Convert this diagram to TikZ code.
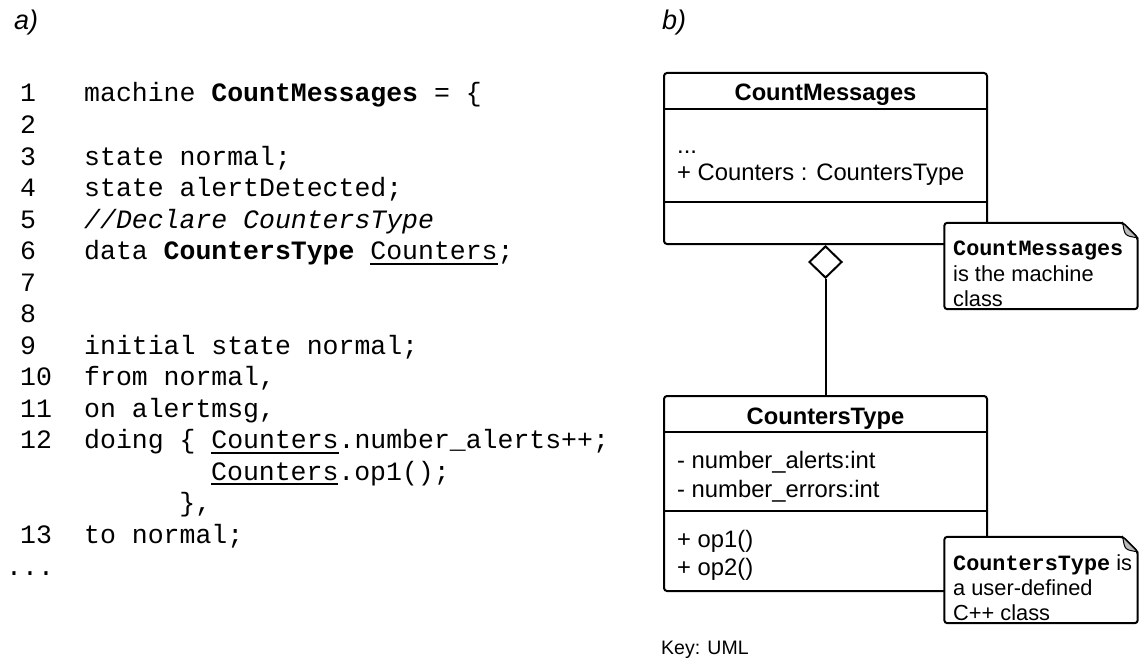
\documentclass[tikz,border=0pt]{standalone}
\usepackage{fontspec}
\setmainfont{Liberation Sans}
\setmonofont{Liberation Mono}
\usetikzlibrary{positioning, shapes.geometric}

\newsavebox\ulbox
\newcommand\codeul[1]{\sbox\ulbox{#1}\rlap{\rule[-5pt]{\wd\ulbox}{2pt}}\usebox\ulbox}

\tikzset{
	code/.style={anchor=base west, inner sep=0pt, font=\fontsize{26.5}{31.5}\selectfont\ttfamily},
	panel/.style={anchor=base west, inner sep=0pt, font=\fontsize{27}{30}\selectfont\itshape},
	umlbox/.style={draw, line width=2pt, rounded corners=3pt, fill=white, minimum width=323pt},
	umltitle/.style={anchor=base, inner sep=0pt, font=\fontsize{23.7}{28}\selectfont\bfseries},
	umltext/.style={anchor=base west, inner sep=0pt, font=\fontsize{23.8}{27}\selectfont},
	agg/.style={draw, diamond, line width=2pt, fill=white, inner sep=0pt, minimum width=33pt, minimum height=32pt},
	notebox/.style={draw, line width=2pt, fill=white, rounded corners=3pt},
	notetext/.style={anchor=base west, inner sep=0pt, font=\fontsize{21.8}{25}\selectfont},
}

\begin{document}
\begin{tikzpicture}[x=1pt, y=-1pt]
	\useasboundingbox (0,0) rectangle (1139,658);

	\node[panel] (pa) at (14,30) {a)};
	\node[panel] (pb) at (662,30) {b)};

	% listing
	\foreach \i in {1,...,12}
		\node[code] (n\i) at (20,{102+31.5*(\i-1)}) {\i};
	\node[code] (n13) at (20,543) {13};

	\node[code] (c1) at (84,102) {machine \textbf{CountMessages} = \{};
	\node[code] (c3) at (84,165) {state normal;};
	\node[code] (c4) at (84,196.5) {state alertDetected;};
	\node[code] (c5) at (84,228) {\textit{//Declare CountersType}};
	\node[code] (c6) at (84,259.5) {data \textbf{CountersType} \codeul{Counters};};
	\node[code] (c9) at (84,354) {initial state normal;};
	\node[code] (c10) at (84,385.5) {from normal,};
	\node[code] (c11) at (84,417) {on alertmsg,};
	\node[code] (c12) at (84,448.5) {doing \{ \codeul{Counters}.number\_alerts++;};
	\node[code] (c12b) at (211,480) {\codeul{Counters}.op1();};
	\node[code] (c12c) at (179.2,511.5) {\},};
	\node[code] (c13) at (84,543) {to normal;};
	\node[code] (dots) at (6,575) {...};

	% class diagram
	\node[umlbox, minimum height=171pt] (cm) at (825.5,158.5) {};
	\draw[line width=2pt] ([yshift=-37pt]cm.north west) -- ([yshift=-37pt]cm.north east);
	\draw[line width=2pt] ([yshift=-130pt]cm.north west) -- ([yshift=-130pt]cm.north east);
	\node[umltitle] (cmt) at (825.5,101) {CountMessages};
	\node[umltext] (cma) at (677,153) {...};
	\node[umltext] (cmb) at (677,180) {+ Counters : CountersType};

	\node[agg, below=0pt of cm] (ag) {};

	\node[umlbox, minimum height=195pt] (ct) at (825.5,493.5) {};
	\draw[line width=2pt] ([yshift=-37pt]ct.north west) -- ([yshift=-37pt]ct.north east);
	\draw[line width=2pt] ([yshift=-116pt]ct.north west) -- ([yshift=-116pt]ct.north east);
	\node[umltitle] (ctt) at (825.5,424) {CountersType};
	\node[umltext] (cta) at (677,468) {- number\_alerts:int};
	\node[umltext] (ctb) at (677,497) {- number\_errors:int};
	\node[umltext] (ctc) at (677,547) {+ op1()};
	\node[umltext] (ctd) at (677,575) {+ op2()};

	\draw[line width=2pt] (ag.south) -- (ct.north);

	% notes
	\node[minimum width=193pt, minimum height=86pt, inner sep=0pt] (m1) at (1041,266) {};
	\draw[notebox] ([xshift=-15pt]m1.north east) -- (m1.north west) -- (m1.south west)
		-- (m1.south east) -- ([yshift=-15pt]m1.north east) -- cycle;
	\filldraw[fill=gray!55, line width=1pt] ([xshift=-15pt]m1.north east)
		.. controls ([xshift=-13pt,yshift=-13pt]m1.north east) .. ([yshift=-15pt]m1.north east) -- cycle;
	\node[notetext] (m1a) at (953,255) {\ttfamily\bfseries CountMessages};
	\node[notetext] (m1b) at (953,281) {is the machine};
	\node[notetext] (m1c) at (953,306) {class};

	\node[minimum width=193pt, minimum height=86pt, inner sep=0pt] (m2) at (1041,580) {};
	\draw[notebox] ([xshift=-15pt]m2.north east) -- (m2.north west) -- (m2.south west)
		-- (m2.south east) -- ([yshift=-15pt]m2.north east) -- cycle;
	\filldraw[fill=gray!55, line width=1pt] ([xshift=-15pt]m2.north east)
		.. controls ([xshift=-13pt,yshift=-13pt]m2.north east) .. ([yshift=-15pt]m2.north east) -- cycle;
	\node[notetext] (m2a) at (953,570) {{\ttfamily\bfseries CountersType} is};
	\node[notetext] (m2b) at (953,595) {a user-defined};
	\node[notetext] (m2c) at (953,620) {C++ class};

	\node[anchor=base west, inner sep=0pt, font=\fontsize{19.5}{24}\selectfont] (key) at (661,654) {Key: UML};
\end{tikzpicture}
\end{document}
